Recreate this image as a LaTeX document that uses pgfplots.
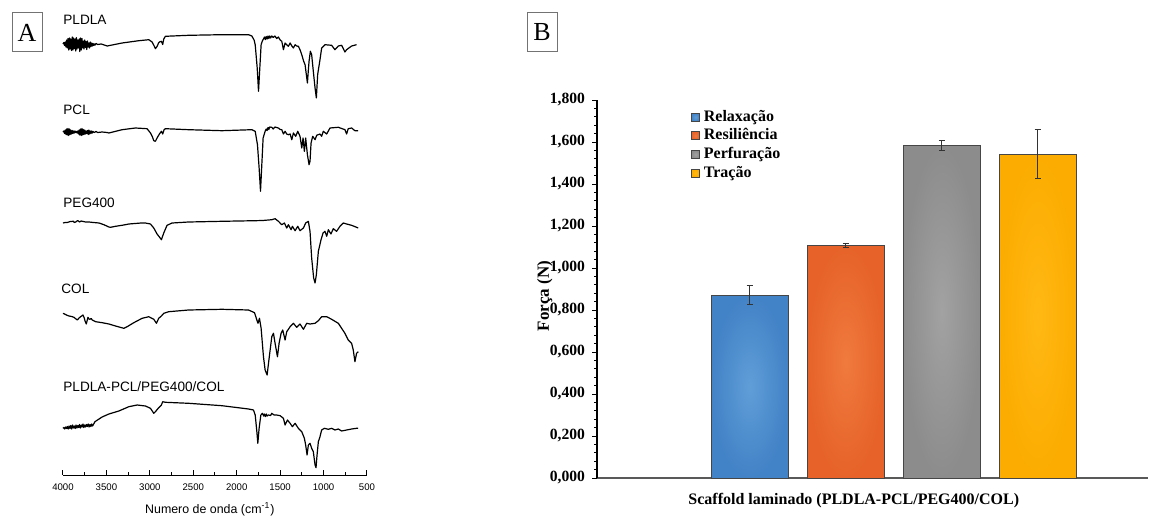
\documentclass[border=0pt]{standalone}
\usepackage{fontspec}
\setmainfont{Liberation Serif}
\newfontfamily\arial{Liberation Sans}
\usepackage{pgfplots}
\pgfplotsset{compat=1.18}

\definecolor{cblue}{RGB}{66,130,198}
\definecolor{cbluein}{RGB}{96,158,216}
\definecolor{corange}{RGB}{230,98,40}
\definecolor{corangein}{RGB}{240,122,62}
\definecolor{cgray}{RGB}{140,140,140}
\definecolor{cgrayin}{RGB}{162,162,162}
\definecolor{cyellow}{RGB}{252,172,0}
\definecolor{cyellowin}{RGB}{255,184,20}
\definecolor{cedge}{RGB}{70,70,70}

\pgfplotsset{spec/.style={black, line width=0.6pt, line join=round, mark=none}}

\begin{document}
\begin{tikzpicture}
\path[use as bounding box] (0,0) rectangle (575.5pt,-259pt);

% panel letters
\node[draw=black!55, line width=0.5pt, minimum width=15pt, minimum height=19.5pt, inner sep=0pt,
      font=\fontsize{13}{13}\selectfont] at (13.5pt,-16.25pt) {A};
\node[draw=black!55, line width=0.5pt, minimum width=15pt, minimum height=19.5pt, inner sep=0pt,
      font=\fontsize{13}{13}\selectfont] at (271pt,-16.25pt) {B};

% ---------------- A: FTIR spectra ----------------
\begin{axis}[
    at={(31.5pt,-237.5pt)}, anchor=south west,
    width=152pt, height=230pt, scale only axis,
    xmin=500, xmax=4000, x dir=reverse,
    ymin=0, ymax=460,
    axis x line*=bottom, axis y line=none,
    clip=false,
    xtick={500,1000,...,4000},
    minor xtick={750,1250,1750,2250,2750,3250,3750},
    tick align=inside,
    major tick length=2.5pt, minor tick length=1.5pt,
    tick style={black, line width=0.5pt},
    x axis line style={black, line width=0.5pt},
    xticklabel style={font=\arial\fontsize{4.8}{5}\selectfont, yshift=-1pt},
    /pgf/number format/assume math mode=true,
    /pgf/number format/1000 sep={},
    xlabel={Numero de onda (cm\textsuperscript{-1})},
    xlabel style={font=\arial\fontsize{6.2}{7}\selectfont, at={(axis description cs:0.483,-0.074)}, anchor=center},
]
% PLDLA
\addplot[spec] coordinates {
(4000,431)(3990,432.5)(3982,429.5)(3974,433)(3966,428)(3958,435)(3950,427)(3942,436.5)(3934,425)
(3926,437)(3918,426)(3910,436)(3902,424.5)(3894,438)(3886,425)(3878,437)(3870,426.5)(3862,436)
(3854,424)(3846,437.5)(3838,426)(3830,435)(3822,427)(3814,436)(3806,423.5)(3798,437)(3790,425)
(3782,436.5)(3774,427)(3766,434)(3758,426)(3750,435)(3742,427.5)(3734,433.5)(3726,425.5)(3718,434)
(3710,428)(3702,432)(3694,427)(3686,433)(3678,428.5)(3670,432)(3662,429)(3654,431.5)(3646,429.5)
(3638,431)(3630,430)(3620,431.5)(3600,430.5)(3560,431)(3491,429)
(3319,432)(3127,434.3)(3012,435.3)(2974,433)(2950,429)(2936,426.3)(2917,428.5)(2900,432)(2890,433)
(2867,433.7)(2852,430.5)(2840,436)(2821,438.7)(2553,439.7)(2170,440.3)(1864,440.3)(1826,439)
(1800,435)(1787,430.3)(1764,407)(1749,383.7)(1734,407)(1719,430.3)(1705,434)(1692,436)
(1680,438)(1670,435.5)(1660,438.5)(1650,436)(1640,439)(1630,436.5)(1620,439)(1610,437)(1596,439)
(1580,437.5)(1560,439)(1540,436.5)(1520,438)(1500,435)(1481,433.7)(1462,425.3)(1443,432)(1420,430)
(1405,428.7)(1385,432)(1365,429)(1347,427)(1328,430.3)(1310,429)(1290,428.7)(1270,425)(1251,420.3)
(1230,414)(1213,410.3)(1186,392)(1175,405)(1167,413.7)(1152,423.7)(1137,420.3)(1118,403.7)(1098,387)
(1083,377)(1068,400.3)(1060,405)(1041,415.3)(1022,427)(984,430.3)(907,429.7)(869,425.3)(830,429)
(792,429.7)(754,423)(735,425.3)(677,429)(620,430.3)};
% PCL
\addplot[spec] coordinates {
(4000,343)(3990,344)(3982,341.5)(3974,345)(3966,340.5)(3958,346)(3950,340)(3942,346.5)(3934,339.5)
(3926,346)(3918,340.5)(3910,345)(3902,341)(3894,344.5)(3886,341.5)(3878,344)(3870,342)(3862,344)
(3854,342.5)(3846,343.5)(3838,342)(3830,344)(3822,341)(3814,345)(3806,340)(3798,346)(3790,339.5)
(3782,346.5)(3774,340)(3766,345.5)(3758,340.5)(3750,345)(3742,341)(3734,344)(3726,341.5)(3718,344.5)
(3710,340.5)(3702,345)(3694,341)(3686,344)(3678,341.5)(3670,344)(3662,342)(3654,343.5)(3640,342.5)
(3620,343.5)(3600,342.5)(3550,343)(3491,342.5)
(3472,342)(3319,345.3)(3166,347)(3032,346.3)(2993,342)(2970,338)(2955,334.3)(2936,333.7)(2917,337)
(2890,341)(2867,343.7)(2852,341)(2836,345.3)(2821,346.3)(2553,345.3)(2170,344.3)(1826,345.3)
(1787,343.7)(1761,330.3)(1742,307)(1726,283.7)(1711,310.3)(1696,337)(1673,343.7)
(1660,346)(1650,344.5)(1640,347.5)(1630,345.5)(1620,348)(1596,347.7)(1580,346)(1560,348)(1520,347)
(1500,345.5)(1481,345.3)(1462,341)(1443,343.7)(1424,341)(1405,340.3)(1385,341)(1366,335.3)(1347,342)
(1321,338.7)(1297,343.7)(1271,338.7)(1251,327)(1236,337)(1221,323.7)(1206,337)(1186,320.3)(1167,310.3)
(1156,313.7)(1144,332)(1125,338.7)(1098,335.3)(1079,339.7)(1041,341)(1022,338.7)(1003,343.7)(964,341)
(926,347)(830,347.7)(754,345.3)(735,341)(716,346.3)(677,347)(639,344.3)(601,344.3)};
% PEG400
\addplot[spec] coordinates {
(4000,252)(3970,252.6)(3950,252.5)(3920,253.4)(3900,253.5)(3880,253.8)(3870,252.5)(3854,253)(3830,254.5)
(3810,253)(3790,254)(3778,253.7)(3740,253)(3701,253)(3650,252.5)(3586,252)(3529,250.3)(3472,248)
(3453,247.7)(3395,248.7)(3300,250)(3242,251)(3100,252)(3051,252)(2993,251)(2955,247)(2917,241)
(2890,238)(2867,235.3)(2840,242)(2802,249.7)(2744,252)(2553,253)(2170,253.7)(1787,254.3)(1700,254.5)
(1596,255.3)(1558,256.3)(1520,253.7)(1481,250.3)(1451,252)(1424,247)(1405,250.3)(1374,245.3)
(1359,248.7)(1328,244.3)(1297,248.7)(1271,244.3)(1232,247)(1206,252)(1175,253.7)(1156,243.7)
(1137,217)(1114,197)(1098,192)(1083,200.3)(1060,223.7)(1029,235.3)(1006,242)(984,243.7)(964,238.7)
(945,245.3)(915,241)(888,246.3)(850,243.7)(811,248.7)(773,252)(735,251)(677,249.7)(620,247.7)(601,247)};
% COL
\addplot[spec] coordinates {
(4000,161.7)(3960,160)(3931,159)(3900,158.5)(3874,157.7)(3850,156)(3835,155)(3815,157)(3797,158.3)
(3770,160)(3755,157)(3747,154.3)(3732,151)(3713,157.7)(3700,156)(3690,155.7)(3675,156.5)(3663,155)
(3625,153.3)(3548,152.3)(3472,151)(3395,149)(3300,146.7)(3261,148.3)(3185,152.3)(3089,156.7)
(3012,158.3)(2955,155.7)(2924,151.7)(2898,156.7)(2867,159)(2840,161.7)(2783,163.3)(2553,165)
(2170,165.7)(1864,165)(1795,162.3)(1768,155)(1755,151.7)(1738,156.7)(1719,146.7)(1692,118.3)
(1673,105)(1650,100)(1627,116.7)(1596,138.3)(1577,141.7)(1558,131.7)(1531,118.3)(1512,131.7)
(1489,141.7)(1470,145)(1443,135)(1424,143.3)(1385,148.3)(1347,151.7)(1309,147.7)(1271,151)
(1232,145.7)(1194,151.7)(1156,151)(1098,151.7)(1060,154.3)(1022,158.3)(964,158.3)(907,155.7)
(830,151.7)(754,141.7)(716,135)(677,131.7)(658,125)(639,113.3)(620,121.7)(601,123.3)};
% PLDLA-PCL/PEG400/COL
\addplot[spec] coordinates {
(4000,46.7)(3990,47.5)(3980,46)(3970,48)(3960,46.5)(3950,48.5)(3940,46)(3930,49)(3920,46.5)(3910,49.5)
(3900,46)(3890,50)(3880,47)(3870,49)(3860,46.5)(3850,50)(3840,47)(3830,49.5)(3820,47.5)(3810,50.5)
(3800,47)(3790,50)(3780,48)(3770,51)(3760,47.5)(3750,50)(3740,48)(3730,50.5)(3720,48.5)(3710,51)
(3700,48)(3690,50.5)(3680,48.5)(3670,51)(3660,49)(3650,50.5)(3632,53.3)(3550,58)(3472,61)(3357,64)
(3242,68.3)(3146,70)(3051,69)(2993,66.7)(2955,61.7)(2936,63.3)(2898,67.3)(2867,70)(2852,73.3)
(2821,72.7)(2553,71.7)(2170,69.3)(1864,66)(1807,65)(1787,60)(1768,43.3)(1757,31.7)(1742,46.7)
(1722,60)(1703,61.7)(1690,59)(1680,61)(1670,58.5)(1660,61)(1650,59)(1634,60)(1610,59.5)(1596,61.7)
(1570,60)(1540,60)(1500,59.3)(1462,56.7)(1443,50)(1416,55)(1385,51.7)(1359,48.3)(1328,51.7)
(1290,46.7)(1251,43.3)(1221,36.7)(1206,30)(1190,20)(1175,30)(1156,31.7)(1137,26.7)(1118,23.3)
(1098,10)(1087,7.3)(1075,20)(1060,33.3)(1041,38.3)(1022,45)(991,46.7)(945,45.7)(907,46.7)(869,45)
(830,46)(792,44)(735,45)(677,46)(620,46.7)(601,46.7)};

\node[anchor=west, inner sep=0pt, font=\arial\fontsize{6.8}{7}\selectfont] at (axis cs:4000,455) {PLDLA};
\node[anchor=west, inner sep=0pt, font=\arial\fontsize{6.8}{7}\selectfont] at (axis cs:4000,365) {PCL};
\node[anchor=west, inner sep=0pt, font=\arial\fontsize{6.8}{7}\selectfont] at (axis cs:4000,272) {PEG400};
\node[anchor=west, inner sep=0pt, font=\arial\fontsize{6.8}{7}\selectfont] at (axis cs:4023,186) {COL};
\node[anchor=west, inner sep=0pt, font=\arial\fontsize{6.8}{7}\selectfont] at (axis cs:4000,88) {PLDLA-PCL/PEG400/COL};
\end{axis}

% ---------------- B: bar chart ----------------
\begin{axis}[
    at={(298.5pt,-239pt)}, anchor=south west,
    width=275.5pt, height=189pt, scale only axis,
    ybar=9.5pt, bar width=38.5pt,
    xmin=0, xmax=1.857,
    ymin=0, ymax=1.8,
    axis x line*=bottom, axis y line*=left,
    xtick=\empty,
    ytick={0,0.2,0.4,0.6,0.8,1,1.2,1.4,1.6,1.8},
    minor y tick num=4,
    tick align=outside,
    major tick length=2.5pt, minor tick length=1.5pt,
    tick style={black, line width=0.5pt},
    x axis line style={draw=black!65, line width=1pt},
    y axis line style={draw=black, line width=0.6pt},
    yticklabel style={font=\bfseries\fontsize{7.8}{9}\selectfont,
        /pgf/number format/.cd, fixed, fixed zerofill, precision=3, use comma, assume math mode=true},
    ylabel={Força (N)},
    ylabel style={font=\bfseries\fontsize{8.5}{10}\selectfont, at={(axis description cs:-0.095,0.481)}, anchor=center},
    xlabel={Scaffold laminado (PLDLA-PCL/PEG400/COL)},
    xlabel style={font=\bfseries\fontsize{8}{10}\selectfont, at={(axis description cs:0.466,-0.06)}, anchor=center},
    legend image code/.code={\draw[#1, draw=cedge, line width=0.4pt] (0pt,-2pt) rectangle (4pt,2pt);},
    legend style={at={(axis description cs:0.17,0.985)}, anchor=north west, draw=none, fill=none,
        inner sep=0pt, row sep=-1.8pt, font=\bfseries\fontsize{8}{9}\selectfont, cells={anchor=west}},
]
\addplot[fill=cblue, inner color=cbluein, outer color=cblue, draw=cedge, line width=0.4pt,
    error bars/.cd, y dir=both, y explicit,
    error bar style={black!80, line width=0.5pt}, error mark options={rotate=90, black!80, mark size=1.5pt, line width=0.5pt}]
    coordinates {(1,0.870) +- (0,0.045)};
\addplot[fill=corange, inner color=corangein, outer color=corange, draw=cedge, line width=0.4pt,
    error bars/.cd, y dir=both, y explicit,
    error bar style={black!80, line width=0.5pt}, error mark options={rotate=90, black!80, mark size=1.5pt, line width=0.5pt}]
    coordinates {(1,1.108) +- (0,0.010)};
\addplot[fill=cgray, inner color=cgrayin, outer color=cgray, draw=cedge, line width=0.4pt,
    error bars/.cd, y dir=both, y explicit,
    error bar style={black!80, line width=0.5pt}, error mark options={rotate=90, black!80, mark size=1.5pt, line width=0.5pt}]
    coordinates {(1,1.583) +- (0,0.025)};
\addplot[fill=cyellow, inner color=cyellowin, outer color=cyellow, draw=cedge, line width=0.4pt,
    error bars/.cd, y dir=both, y explicit,
    error bar style={black!80, line width=0.5pt}, error mark options={rotate=90, black!80, mark size=1.5pt, line width=0.5pt}]
    coordinates {(1,1.542) +- (0,0.118)};
\legend{Relaxação, Resiliência, Perfuração, Tração}
\end{axis}
\end{tikzpicture}
\end{document}
